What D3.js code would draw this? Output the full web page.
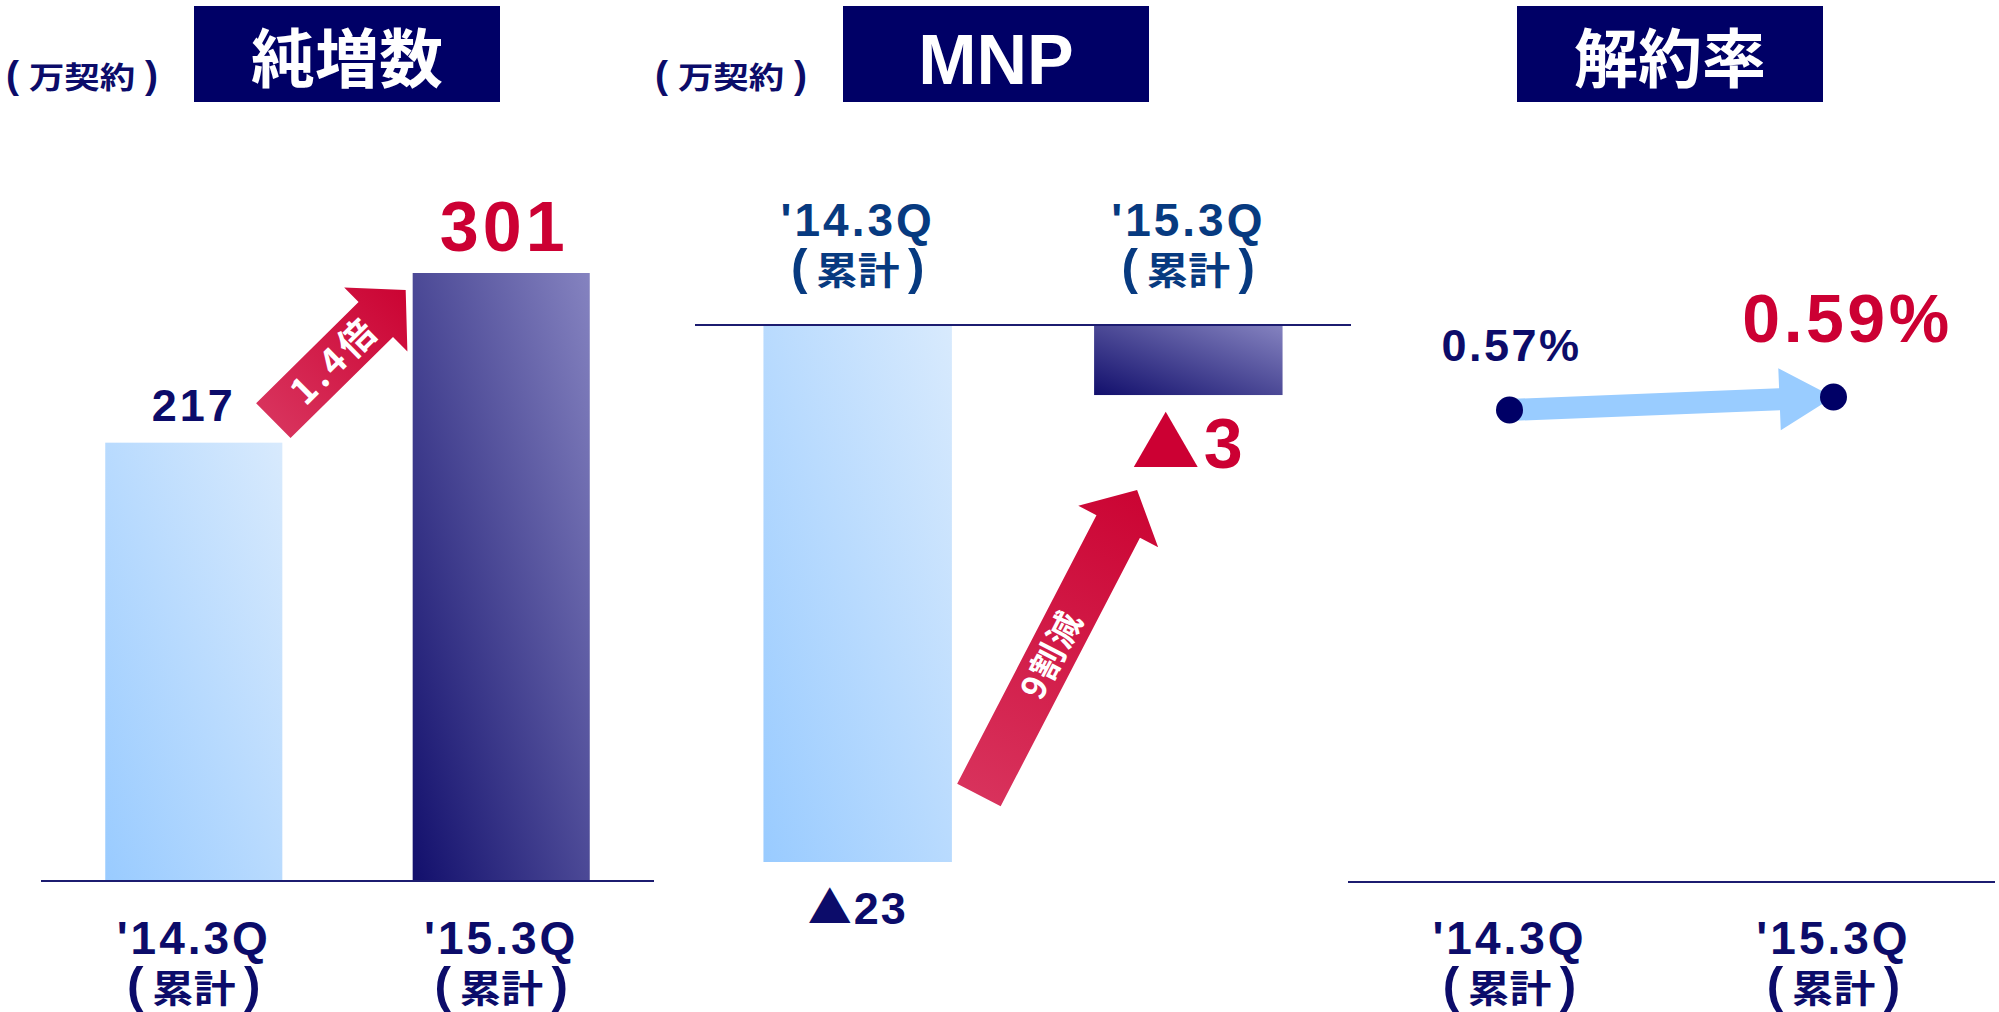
<!DOCTYPE html>
<html>
<head>
<meta charset="utf-8">
<script src="https://cdn.jsdelivr.net/npm/d3@7"></script>
<style>
  html, body { margin: 0; padding: 0; background: #ffffff; }
  svg { display: block; }
  .num { font-family: "Liberation Sans", Arial, sans-serif; font-weight: 700; }
  .jp { font-family: "Noto Sans CJK JP", "Noto Sans", sans-serif; font-weight: 700; }
</style>
</head>
<body>
<svg id="chart" width="1999" height="1012"></svg>
<script>
// ---- data ----
const periods = ["'14.3Q", "'15.3Q"];
const periodSub = "累計";           // shown in parentheses under each period
const unitLabel = "万契約";          // shown in parentheses beside the first two titles
const panelTitles = ["純増数", "MNP", "解約率"];

const netAdds = [217, 301];          // 純増数（万契約）
const netAddLabels = ["217", "301"];
const netAddRatio = "1.4倍";

const mnp = [-23, -3];               // MNP（万契約）
const mnpLabels = ["23", "3"];       // drawn after a ▲ (negative) mark
const mnpChange = "9割減";

const churn = [0.57, 0.59];          // 解約率（%）
const churnLabels = ["0.57%", "0.59%"];

// ---- palette ----
const NAVY = "#000066";
const TEXT_NAVY = "#0c0c6a";
const TEXT_BLUE = "#073a80";
const RED = "#cc0033";
const AXIS = "#1c1c70";

const svg = d3.select("#chart");
const defs = svg.append("defs");

function diagGradient(id, from, to) {
  const g = defs.append("linearGradient").attr("id", id)
    .attr("x1", 0).attr("y1", 1).attr("x2", 1).attr("y2", 0);
  g.append("stop").attr("offset", "0%").attr("stop-color", from);
  g.append("stop").attr("offset", "100%").attr("stop-color", to);
}
diagGradient("gLight", "#99cbff", "#d8eafd");
diagGradient("gDark", "#120f6c", "#8583c0");

function arrowGradient(id, tail, tip) {
  const g = defs.append("linearGradient").attr("id", id)
    .attr("gradientUnits", "userSpaceOnUse")
    .attr("x1", tail[0]).attr("y1", tail[1]).attr("x2", tip[0]).attr("y2", tip[1]);
  g.append("stop").attr("offset", "0%").attr("stop-color", "#d8325c");
  g.append("stop").attr("offset", "100%").attr("stop-color", "#cb0433");
}

// block arrow outline from tail centre to tip
function arrowPath(tail, tip, shaftHalf, headHalf, headLen) {
  const dx = tip[0] - tail[0], dy = tip[1] - tail[1];
  const len = Math.hypot(dx, dy);
  const ux = dx / len, uy = dy / len;
  const nx = -uy, ny = ux;
  const bx = tip[0] - ux * headLen, by = tip[1] - uy * headLen;
  const p = d3.path();
  p.moveTo(tail[0] + nx * shaftHalf, tail[1] + ny * shaftHalf);
  p.lineTo(bx + nx * shaftHalf, by + ny * shaftHalf);
  p.lineTo(bx + nx * headHalf, by + ny * headHalf);
  p.lineTo(tip[0], tip[1]);
  p.lineTo(bx - nx * headHalf, by - ny * headHalf);
  p.lineTo(bx - nx * shaftHalf, by - ny * shaftHalf);
  p.lineTo(tail[0] - nx * shaftHalf, tail[1] - ny * shaftHalf);
  p.closePath();
  return p.toString();
}

// Japanese word in tall parentheses, glyphs slightly widened
function parenLabel(cx, baseline, word, size, sx, parenOffset, fill) {
  const g = svg.append("g").attr("fill", fill);
  g.append("text").attr("class", "jp")
    .attr("transform", `translate(${cx},${baseline}) scale(${sx},1)`)
    .attr("text-anchor", "middle").attr("font-size", size).text(word);
  ["(", ")"].forEach((ch, i) => {
    g.append("text").attr("class", "num")
      .attr("x", cx + (i ? 1 : -1) * parenOffset).attr("y", baseline)
      .attr("text-anchor", "middle").attr("font-size", size * 1.3).attr("font-weight", 400)
      .text(ch);
  });
}

function titleBox(x, label, isLatin) {
  svg.append("rect").attr("x", x).attr("y", 6).attr("width", 306).attr("height", 96).attr("fill", NAVY);
  svg.append("text")
    .attr("class", isLatin ? "num" : "jp")
    .attr("x", x + 153).attr("y", isLatin ? 84 : 82)
    .attr("text-anchor", "middle")
    .attr("fill", "#ffffff")
    .attr("font-size", isLatin ? 70 : 64)
    .attr("font-weight", 900)
    .text(label);
}

function periodLabels(xs, yMain, fill) {
  periods.forEach((p, i) => {
    svg.append("text").attr("class", "num")
      .attr("x", xs[i]).attr("y", yMain)
      .attr("text-anchor", "middle").attr("fill", fill)
      .attr("font-size", 46).attr("letter-spacing", 3)
      .text(p);
    parenLabel(xs[i], yMain + 48, periodSub, 38, 1.1, 58.5, fill);
  });
}

// value with a leading ▲ marking a negative figure
function negLabel(cx, baseline, value, triSize, numSize, gap, fill) {
  const t = svg.append("text").attr("x", cx).attr("y", baseline)
    .attr("text-anchor", "middle").attr("fill", fill);
  t.append("tspan").attr("class", "jp").attr("font-size", triSize).text("▲");
  t.append("tspan").attr("class", "num").attr("dx", gap).attr("font-size", numSize)
    .attr("letter-spacing", 2).text(value);
}

// ================= Panel 1: 純増数 =================
{
  const x = d3.scaleBand().domain(periods).range([41, 654]).paddingInner(0.424).paddingOuter(0.209);
  const y = d3.scaleLinear().domain([0, 301]).range([881, 273]);

  parenLabel(82, 88, unitLabel, 30, 1.18, 69.5, TEXT_NAVY);
  titleBox(194, panelTitles[0], false);

  svg.selectAll(".bar1").data(netAdds).enter().append("rect")
    .attr("x", (d, i) => x(periods[i]))
    .attr("y", d => y(d))
    .attr("width", x.bandwidth())
    .attr("height", d => y(0) - y(d))
    .attr("fill", (d, i) => i === 0 ? "url(#gLight)" : "url(#gDark)");

  svg.append("line").attr("x1", 41).attr("x2", 654).attr("y1", y(0)).attr("y2", y(0))
    .attr("stroke", AXIS).attr("stroke-width", 2);

  svg.append("text").attr("class", "num")
    .attr("x", x(periods[0]) + x.bandwidth() / 2).attr("y", y(netAdds[0]) - 22)
    .attr("text-anchor", "middle").attr("fill", TEXT_NAVY).attr("font-size", 45).attr("letter-spacing", 3)
    .text(netAddLabels[0]);
  svg.append("text").attr("class", "num")
    .attr("x", x(periods[1]) + x.bandwidth() / 2 + 3).attr("y", y(netAdds[1]) - 22)
    .attr("text-anchor", "middle").attr("fill", RED).attr("font-size", 70).attr("letter-spacing", 4)
    .text(netAddLabels[1]);

  // growth arrow between the bar tops
  const tail = [x(periods[0]) + x.bandwidth() - 9, y(netAdds[0]) - 22];
  const tip = [x(periods[1]) - 7, y(netAdds[1]) + 17];
  arrowGradient("gArrow1", tail, tip);
  svg.append("path").attr("d", arrowPath(tail, tip, 24.5, 45, 42)).attr("fill", "url(#gArrow1)");
  const ang = Math.atan2(tip[1] - tail[1], tip[0] - tail[0]) * 180 / Math.PI;
  const mx = tail[0] + (tip[0] - tail[0]) * 0.46, my = tail[1] + (tip[1] - tail[1]) * 0.46;
  svg.append("text").attr("class", "jp")
    .attr("transform", `translate(${mx},${my}) rotate(${ang})`)
    .attr("text-anchor", "middle").attr("dy", "0.36em")
    .attr("fill", "#ffffff").attr("font-size", 36).attr("font-weight", 900).attr("letter-spacing", 4)
    .text(netAddRatio);

  periodLabels(periods.map(p => x(p) + x.bandwidth() / 2), 954, TEXT_NAVY);
}

// ================= Panel 2: MNP =================
{
  const x = d3.scaleBand().domain(periods).range([695, 1351]).paddingInner(0.43).paddingOuter(0.207);
  const y = d3.scaleLinear().domain([-23, 0]).range([862, 325]);

  parenLabel(731, 88, unitLabel, 30, 1.18, 69.5, TEXT_NAVY);
  titleBox(843, panelTitles[1], true);

  svg.selectAll(".bar2").data(mnp).enter().append("rect")
    .attr("x", (d, i) => x(periods[i]))
    .attr("y", y(0))
    .attr("width", x.bandwidth())
    .attr("height", d => y(d) - y(0))
    .attr("fill", (d, i) => i === 0 ? "url(#gLight)" : "url(#gDark)");

  svg.append("line").attr("x1", 695).attr("x2", 1351).attr("y1", y(0)).attr("y2", y(0))
    .attr("stroke", AXIS).attr("stroke-width", 2);

  negLabel(x(periods[0]) + x.bandwidth() / 2, y(mnp[0]) + 62, mnpLabels[0], 44, 45, 2, TEXT_NAVY);
  negLabel(x(periods[1]) + x.bandwidth() / 2, y(mnp[1]) + 73, mnpLabels[1], 68, 70, 4, RED);

  // reduction arrow rising toward the smaller bar
  const tail = [x(periods[0]) + x.bandwidth() + 27, y(mnp[0]) - 67];
  const tip = [x(periods[1]) + 43, y(mnp[1]) + 95];
  arrowGradient("gArrow2", tail, tip);
  svg.append("path").attr("d", arrowPath(tail, tip, 24.5, 45, 41)).attr("fill", "url(#gArrow2)");
  const ang = Math.atan2(tip[1] - tail[1], tip[0] - tail[0]) * 180 / Math.PI;
  const mx = tail[0] + (tip[0] - tail[0]) * 0.46, my = tail[1] + (tip[1] - tail[1]) * 0.46;
  svg.append("text").attr("class", "jp")
    .attr("transform", `translate(${mx},${my}) rotate(${ang})`)
    .attr("text-anchor", "middle").attr("dy", "0.36em")
    .attr("fill", "#ffffff").attr("font-size", 34).attr("font-weight", 900).attr("letter-spacing", 2)
    .text(mnpChange);

  periodLabels(periods.map(p => x(p) + x.bandwidth() / 2), 236, TEXT_BLUE);
}

// ================= Panel 3: 解約率 =================
{
  const x = d3.scalePoint().domain(periods).range([1348, 1995]).padding(0.4985);
  const y = d3.scaleLinear().domain([0.57, 0.59]).range([410, 397]);

  titleBox(1517, panelTitles[2], false);

  svg.append("line").attr("x1", 1348).attr("x2", 1995).attr("y1", 882).attr("y2", 882)
    .attr("stroke", AXIS).attr("stroke-width", 2);

  const p0 = [x(periods[0]), y(churn[0])];
  const p1 = [x(periods[1]), y(churn[1])];
  svg.append("path").attr("d", arrowPath(p0, p1, 11, 31, 54)).attr("fill", "#99ccff");

  svg.selectAll(".dot").data(churn).enter().append("circle")
    .attr("cx", (d, i) => x(periods[i]))
    .attr("cy", d => y(d))
    .attr("r", 13.5)
    .attr("fill", NAVY);

  svg.append("text").attr("class", "num")
    .attr("x", p0[0] + 2).attr("y", p0[1] - 49)
    .attr("text-anchor", "middle").attr("fill", TEXT_NAVY).attr("font-size", 45).attr("letter-spacing", 2.5)
    .text(churnLabels[0]);
  svg.append("text").attr("class", "num")
    .attr("x", p1[0] + 14).attr("y", p1[1] - 55)
    .attr("text-anchor", "middle").attr("fill", RED).attr("font-size", 68).attr("letter-spacing", 3.5)
    .text(churnLabels[1]);

  periodLabels(periods.map(p => x(p)), 954, TEXT_NAVY);
}
</script>
</body>
</html>
